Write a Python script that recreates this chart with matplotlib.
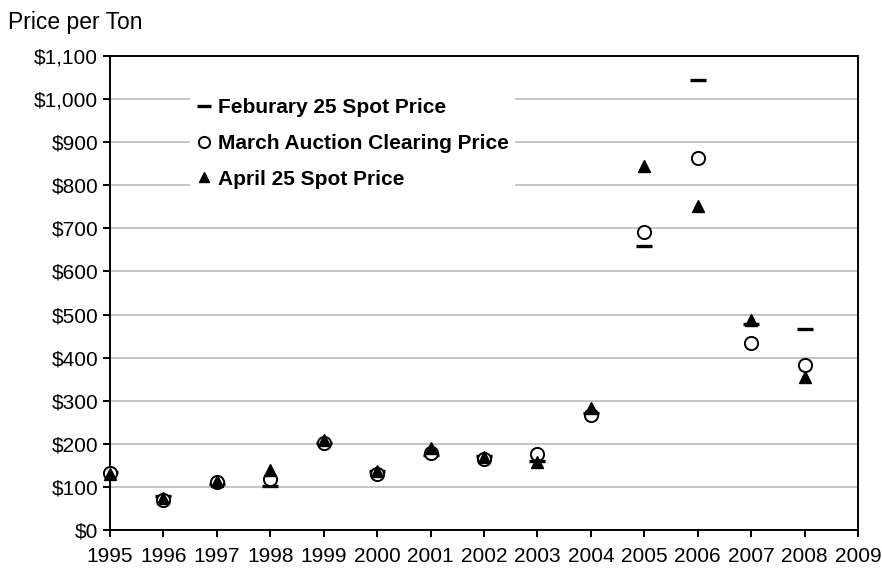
import matplotlib
matplotlib.use('Agg')
import matplotlib.pyplot as plt
from matplotlib.ticker import FuncFormatter

plt.rcParams['font.family'] = ['Liberation Sans', 'DejaVu Sans']

# Prices per ton by year
years = [1995, 1996, 1997, 1998, 1999, 2000, 2001, 2002, 2003, 2004, 2005, 2006, 2007, 2008]
feb_spot = [135, 80, 107, 102, 203, 137, 174, 172, 161, 271, 660, 1044, 478, 466]
march_auction = [133, 70, 112, 118, 203, 130, 179, 164, 176, 267, 692, 864, 435, 383]
april_spot = [130, 75, 113, 139, 209, 138, 190, 170, 158, 282, 845, 752, 487, 356]

fig = plt.figure(figsize=(8.82, 5.68), dpi=100)
ax = fig.add_axes([110 / 882, 1 - 530 / 568, 748 / 882, 474 / 568])

ax.plot(years, feb_spot, linestyle='none', marker='_', markersize=12,
        markeredgewidth=2.4, color='black', label='Feburary 25 Spot Price', zorder=3)
ax.plot(years, march_auction, linestyle='none', marker='o', markersize=9.5,
        markerfacecolor='white', markeredgecolor='black', markeredgewidth=1.4,
        label='March Auction Clearing Price', zorder=4, clip_on=False)
ax.plot(years, april_spot, linestyle='none', marker='^', markersize=8.5,
        color='black', label='April 25 Spot Price', zorder=5, clip_on=False)

ax.set_xlim(1995, 2009)
ax.set_ylim(0, 1100)
ax.set_xticks(range(1995, 2010))
ax.set_yticks(range(0, 1101, 100))
ax.yaxis.set_major_formatter(FuncFormatter(lambda v, p: '${:,.0f}'.format(v)))
ax.grid(axis='y', color='#c0c0c0', linewidth=1.3)
ax.set_axisbelow(True)
for s in ax.spines.values():
    s.set_color('black')
    s.set_linewidth(1.4)
ax.tick_params(direction='out', length=5, width=1.4, labelsize=15, colors='black')
ax.tick_params(axis='x', pad=7)

fig.text(8 / 882, 1 - 22 / 568, 'Price per Ton', fontsize=16.5, va='center', ha='left')

leg = ax.legend(loc='upper left', bbox_to_anchor=(190 / 882, 1 - 92 / 568),
                bbox_transform=fig.transFigure, frameon=True, fancybox=False,
                edgecolor='none', facecolor='white', framealpha=1,
                prop={'weight': 'bold', 'size': 15}, handlelength=0.7,
                handletextpad=0.35, labelspacing=0.8, borderpad=0.3,
                borderaxespad=0, markerscale=0.85)

fig.savefig('out.png', dpi=100)
